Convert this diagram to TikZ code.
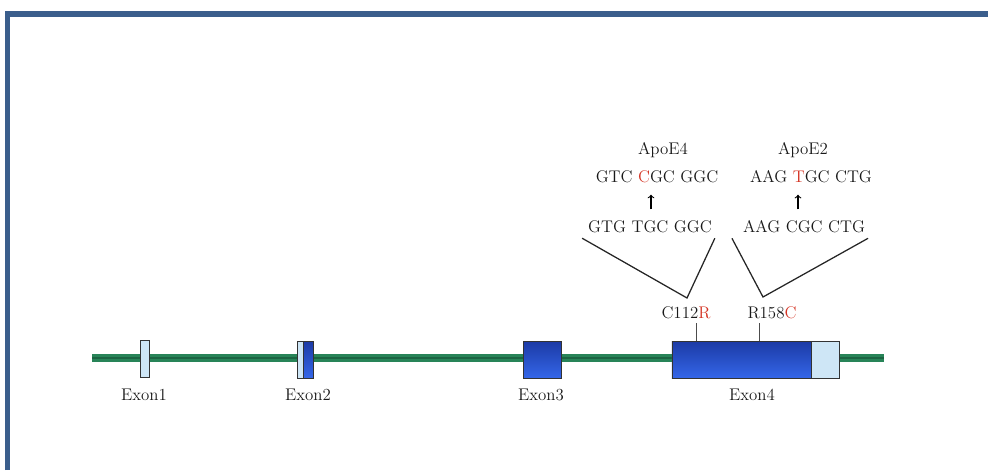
\documentclass[tikz,border=0pt]{standalone}
\usepackage{fontspec}

\definecolor{frameblue}{RGB}{59,94,140}
\definecolor{genegreen}{RGB}{40,132,88}
\definecolor{genedark}{RGB}{28,100,66}
\definecolor{exondark}{RGB}{28,58,165}
\definecolor{exonmid}{RGB}{52,102,232}
\definecolor{exonlight}{RGB}{206,230,246}
\definecolor{mutred}{RGB}{212,52,36}

% one pixel of the drawing grid
\newcommand{\pxl}{0.7113pt}

\tikzset{
	exon/.style={draw=black!80, line width=0.6pt, inner sep=0pt, top color=exondark, bottom color=exonmid},
	utr/.style={draw=black!80, line width=0.6pt, inner sep=0pt, fill=exonlight},
	lbl/.style={font=\fontsize{12}{14}\selectfont, text=black!90, inner sep=2pt},
	mutarrow/.style={-to, line width=0.8pt, shorten <=6pt, shorten >=6pt},
}

\begin{document}
\begin{tikzpicture}[x=0.025cm, y=-0.025cm]
	\useasboundingbox (0,0) rectangle (988,470);

	% frame
	\draw[frameblue, line width=3.6pt] (7.5,470) -- (7.5,14) -- (988,14);

	% gene backbone
	\coordinate (geneL) at (92,358);
	\coordinate (geneR) at (884,358);
	\draw[genegreen, line width=5.4pt] (geneL) -- (geneR);
	\draw[genedark, line width=1.6pt] (geneL) -- (geneR);

	% exons
	\node[utr, minimum width=9*\pxl, minimum height=37*\pxl] (ex1) at (144.5,358.5) {};
	\node[utr, minimum width=6*\pxl, minimum height=37*\pxl] (ex2a) at (300,359.5) {};
	\node[exon, minimum width=10*\pxl, minimum height=37*\pxl] (ex2b) at (308,359.5) {};
	\node[exon, minimum width=38*\pxl, minimum height=37*\pxl] (ex3) at (542,359.5) {};
	\node[exon, minimum width=139*\pxl, minimum height=37*\pxl] (ex4) at (741.5,359.5) {};
	\node[utr, minimum width=28*\pxl, minimum height=37*\pxl] (ex4u) at (825,359.5) {};

	\node[lbl] (lex1) at (144,395) {Exon1};
	\node[lbl] (lex2) at (308,395) {Exon2};
	\node[lbl] (lex3) at (541,395) {Exon3};
	\node[lbl] (lex4) at (752,395) {Exon4};

	% mutation sites
	\node[lbl] (c112) at (686,313) {C112{\color{mutred}R}};
	\node[lbl] (r158) at (772,313) {R158{\color{mutred}C}};
	\coordinate (tickA) at (696,323);
	\coordinate (tickB) at (759,323);
	\draw[line width=0.6pt, black!70] (ex4.north -| tickA) -- (tickA);
	\draw[line width=0.6pt, black!70] (ex4.north -| tickB) -- (tickB);

	% codons
	\node[lbl] (apoe4) at (663,150) {ApoE4};
	\node[lbl] (gtc) at (657,177) {GTC {\color{mutred}C}GC GGC};
	\node[lbl] (gtg) at (650,227) {GTG TGC GGC};
	\node[lbl] (apoe2) at (803,150) {ApoE2};
	\node[lbl] (aagt) at (811,177) {AAG {\color{mutred}T}GC CTG};
	\node[lbl] (aagc) at (804,227) {AAG CGC CTG};

	\draw[mutarrow] ([xshift=1*\pxl]gtg.north) -- ([xshift=1*\pxl]gtg.north |- gtc.south);
	\draw[mutarrow] ([xshift=-6*\pxl]aagc.north) -- ([xshift=-6*\pxl]aagc.north |- aagt.south);

	% zoom lines
	\coordinate (apexA) at (687,298);
	\coordinate (apexB) at (763,297);
	\draw[line width=0.9pt, black!85] ([xshift=-3*\pxl, yshift=-2*\pxl]gtg.south west) -- (apexA) -- ([yshift=-2*\pxl]gtg.south east);
	\draw[line width=0.9pt, black!85] ([xshift=-8*\pxl, yshift=-2*\pxl]aagc.south west) -- (apexB) -- ([yshift=-2*\pxl]aagc.south east);
\end{tikzpicture}
\end{document}
